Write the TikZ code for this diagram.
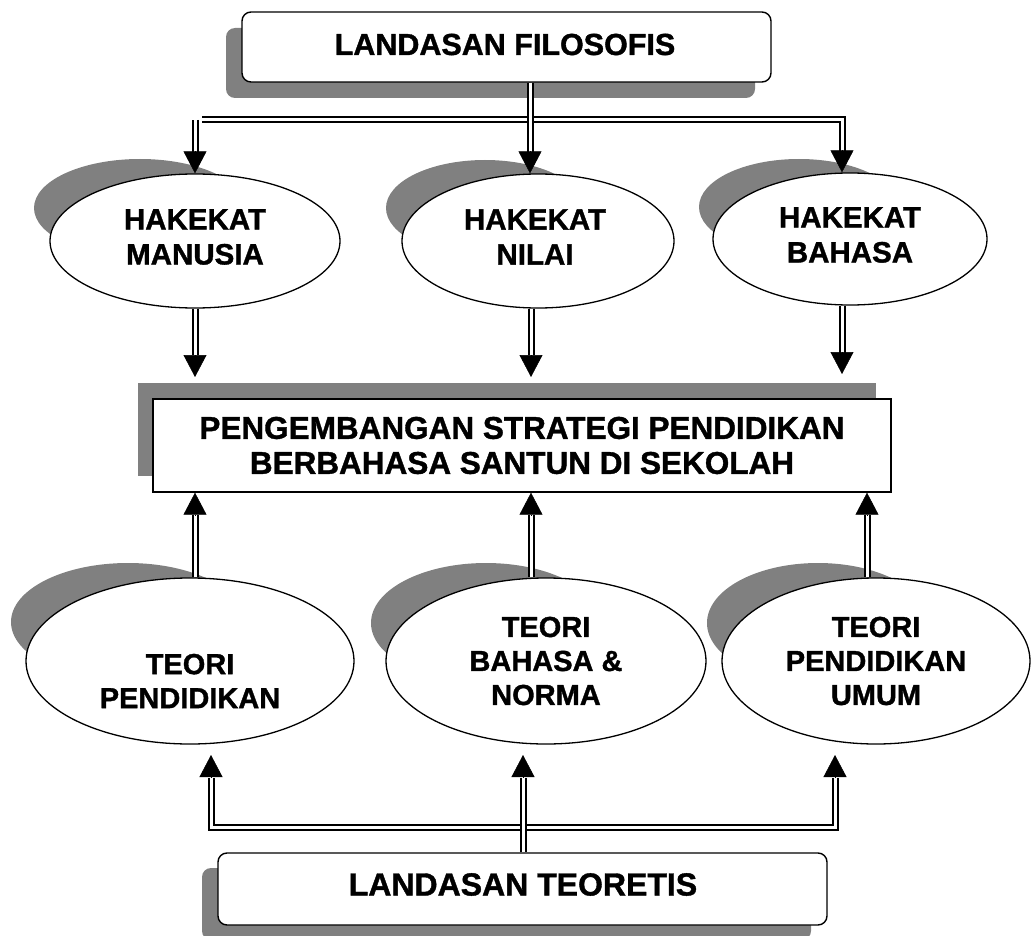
\documentclass[tikz,border=0pt]{standalone}
\usepackage{fontspec}
\setmainfont[BoldFeatures={FakeBold=1.2}]{Liberation Sans}
\usetikzlibrary{shapes.geometric,arrows.meta,shadows}
\definecolor{shd}{HTML}{808080}
\begin{document}
\begin{tikzpicture}[x=1pt,y=-1pt,
  sh/.style 2 args={general shadow={fill=shd, shadow xshift=#1, shadow yshift=#2}},
  rbox/.style={draw, fill=white, line width=1.4pt, rounded corners=9pt, inner sep=0pt, align=center},
  sbox/.style={draw, fill=white, line width=1.4pt, inner sep=0pt, align=center},
  ell/.style={ellipse, draw, fill=white, line width=1.3pt, inner sep=0pt, align=center},
  eshadow/.style={fill=shd},
  ftop/.style={font=\bfseries\fontsize{29.5}{35}\selectfont},
  fbot/.style={font=\bfseries\fontsize{29}{34}\selectfont},
  dbl/.style={draw=black, double=white, double distance=3pt, line width=2pt},
  tip/.style={-{Triangle[width=23pt,length=22pt]}, line width=0.5pt}]
\useasboundingbox (0,0) rectangle (1031,936);

% boxes
\node[rbox, sh={-16pt}{-16pt}, minimum width=529pt, minimum height=70pt] (top) at (506.5,47) {};
\node[font=\bfseries\fontsize{30.5}{35}\selectfont, inner sep=0pt] (toplbl) at (505,44.5) {LANDASAN FILOSOFIS};
\node[sbox, sh={-15pt}{16pt}, minimum width=738pt, minimum height=93pt,
      font=\bfseries\fontsize{31.5}{35}\selectfont] (mid) at (522,445.5)
      {PENGEMBANGAN STRATEGI PENDIDIKAN\\BERBAHASA SANTUN DI SEKOLAH};
\node[rbox, sh={-16pt}{-15pt}, minimum width=609pt, minimum height=72pt] (bot) at (522.5,889) {};
\node[font=\bfseries\fontsize{32}{36}\selectfont, inner sep=0pt] (botlbl) at (523,884.5) {LANDASAN TEORETIS};

% ellipse shadows
\fill[eshadow] (140,208) ellipse [x radius=106pt, y radius=49pt];
\fill[eshadow] (485,208) ellipse [x radius=99pt, y radius=48pt];
\fill[eshadow] (799,207) ellipse [x radius=100pt, y radius=48pt];
\fill[eshadow] (128,622) ellipse [x radius=117pt, y radius=59pt];
\fill[eshadow] (486,623) ellipse [x radius=115pt, y radius=60pt];
\fill[eshadow] (818,623) ellipse [x radius=111pt, y radius=60pt];

% upper ellipses
\node[ell, minimum width=290pt, minimum height=134pt] (e1) at (195,241) {};
\node[ell, minimum width=272pt, minimum height=134pt] (e2) at (538,241) {};
\node[ell, minimum width=274pt, minimum height=132pt] (e3) at (850,239) {};
\node[ftop, inner sep=0pt, align=center] (e1lbl) at (195,237) {HAKEKAT\\MANUSIA};
\node[ftop, inner sep=0pt, align=center] (e2lbl) at (535,237) {HAKEKAT\\NILAI};
\node[ftop, inner sep=0pt, align=center] (e3lbl) at (850,235) {HAKEKAT\\BAHASA};

% lower ellipses
\node[ell, minimum width=328pt, minimum height=166pt] (b1) at (190,661) {};
\node[fbot, inner sep=0pt, align=center] (b1lbl) at (190,681) {TEORI\\PENDIDIKAN};
\node[ell, fbot, minimum width=320pt, minimum height=166pt] (b2) at (546,661) {TEORI\\BAHASA \&\\NORMA};
\node[ell, fbot, minimum width=308pt, minimum height=166pt] (b3) at (876,661) {TEORI\\PENDIDIKAN\\UMUM};

% top connectors
\coordinate (h1) at (202,119.5);
\coordinate (h2) at (842,119.5);
\coordinate (a3) at (842,152);
\coordinate (a1s) at (195,120);
\coordinate (a1) at (195,152);
\coordinate (a2) at (530,152);
\draw[dbl] (h1) -- (h2) -- (a3);
\draw[dbl] (a1s) -- (a1);
\draw[dbl] (a2 |- top.south) -- (a2);
\draw[tip] (a1) -- (a1 |- e1.north);
\draw[tip] (a2) -- (a2 |- e2.north);
\draw[tip] (a3) -- (a3 |- e3.north);

% upper ellipses to middle box
\coordinate (m1) at (195,355);
\coordinate (m2) at (531,355);
\coordinate (m3) at (842,353);
\draw[dbl] (m1 |- e1.south) -- (m1);
\draw[dbl] (m2 |- e2.south) -- (m2);
\draw[dbl] (m3 |- e3.south) -- (m3);
\draw[tip] (m1) -- ++(0,22);
\draw[tip] (m2) -- ++(0,22);
\draw[tip] (m3) -- ++(0,21);

% lower ellipses to middle box
\coordinate (u1) at (195,515);
\coordinate (u2) at (531,515);
\coordinate (u3) at (867,515);
\draw[dbl] (u1 |- b1.north) -- (u1);
\draw[dbl] (u2 |- b2.north) -- (u2);
\draw[dbl] (u3 |- b3.north) -- (u3);
\draw[tip] (u1) -- (u1 |- mid.south);
\draw[tip] (u2) -- (u2 |- mid.south);
\draw[tip] (u3) -- (u3 |- mid.south);

% bottom connectors
\coordinate (l1) at (211,778);
\coordinate (l2) at (523,778);
\coordinate (l3) at (835,778);
\coordinate (c1) at (211,827.5);
\coordinate (c3) at (835,827.5);
\draw[dbl] (l1) -- (c1) -- (c3) -- (l3);
\draw[dbl] (l2 |- bot.north) -- (l2);
\draw[tip] (l1) -- ++(0,-23);
\draw[tip] (l2) -- ++(0,-23);
\draw[tip] (l3) -- ++(0,-23);
\end{tikzpicture}
\end{document}
